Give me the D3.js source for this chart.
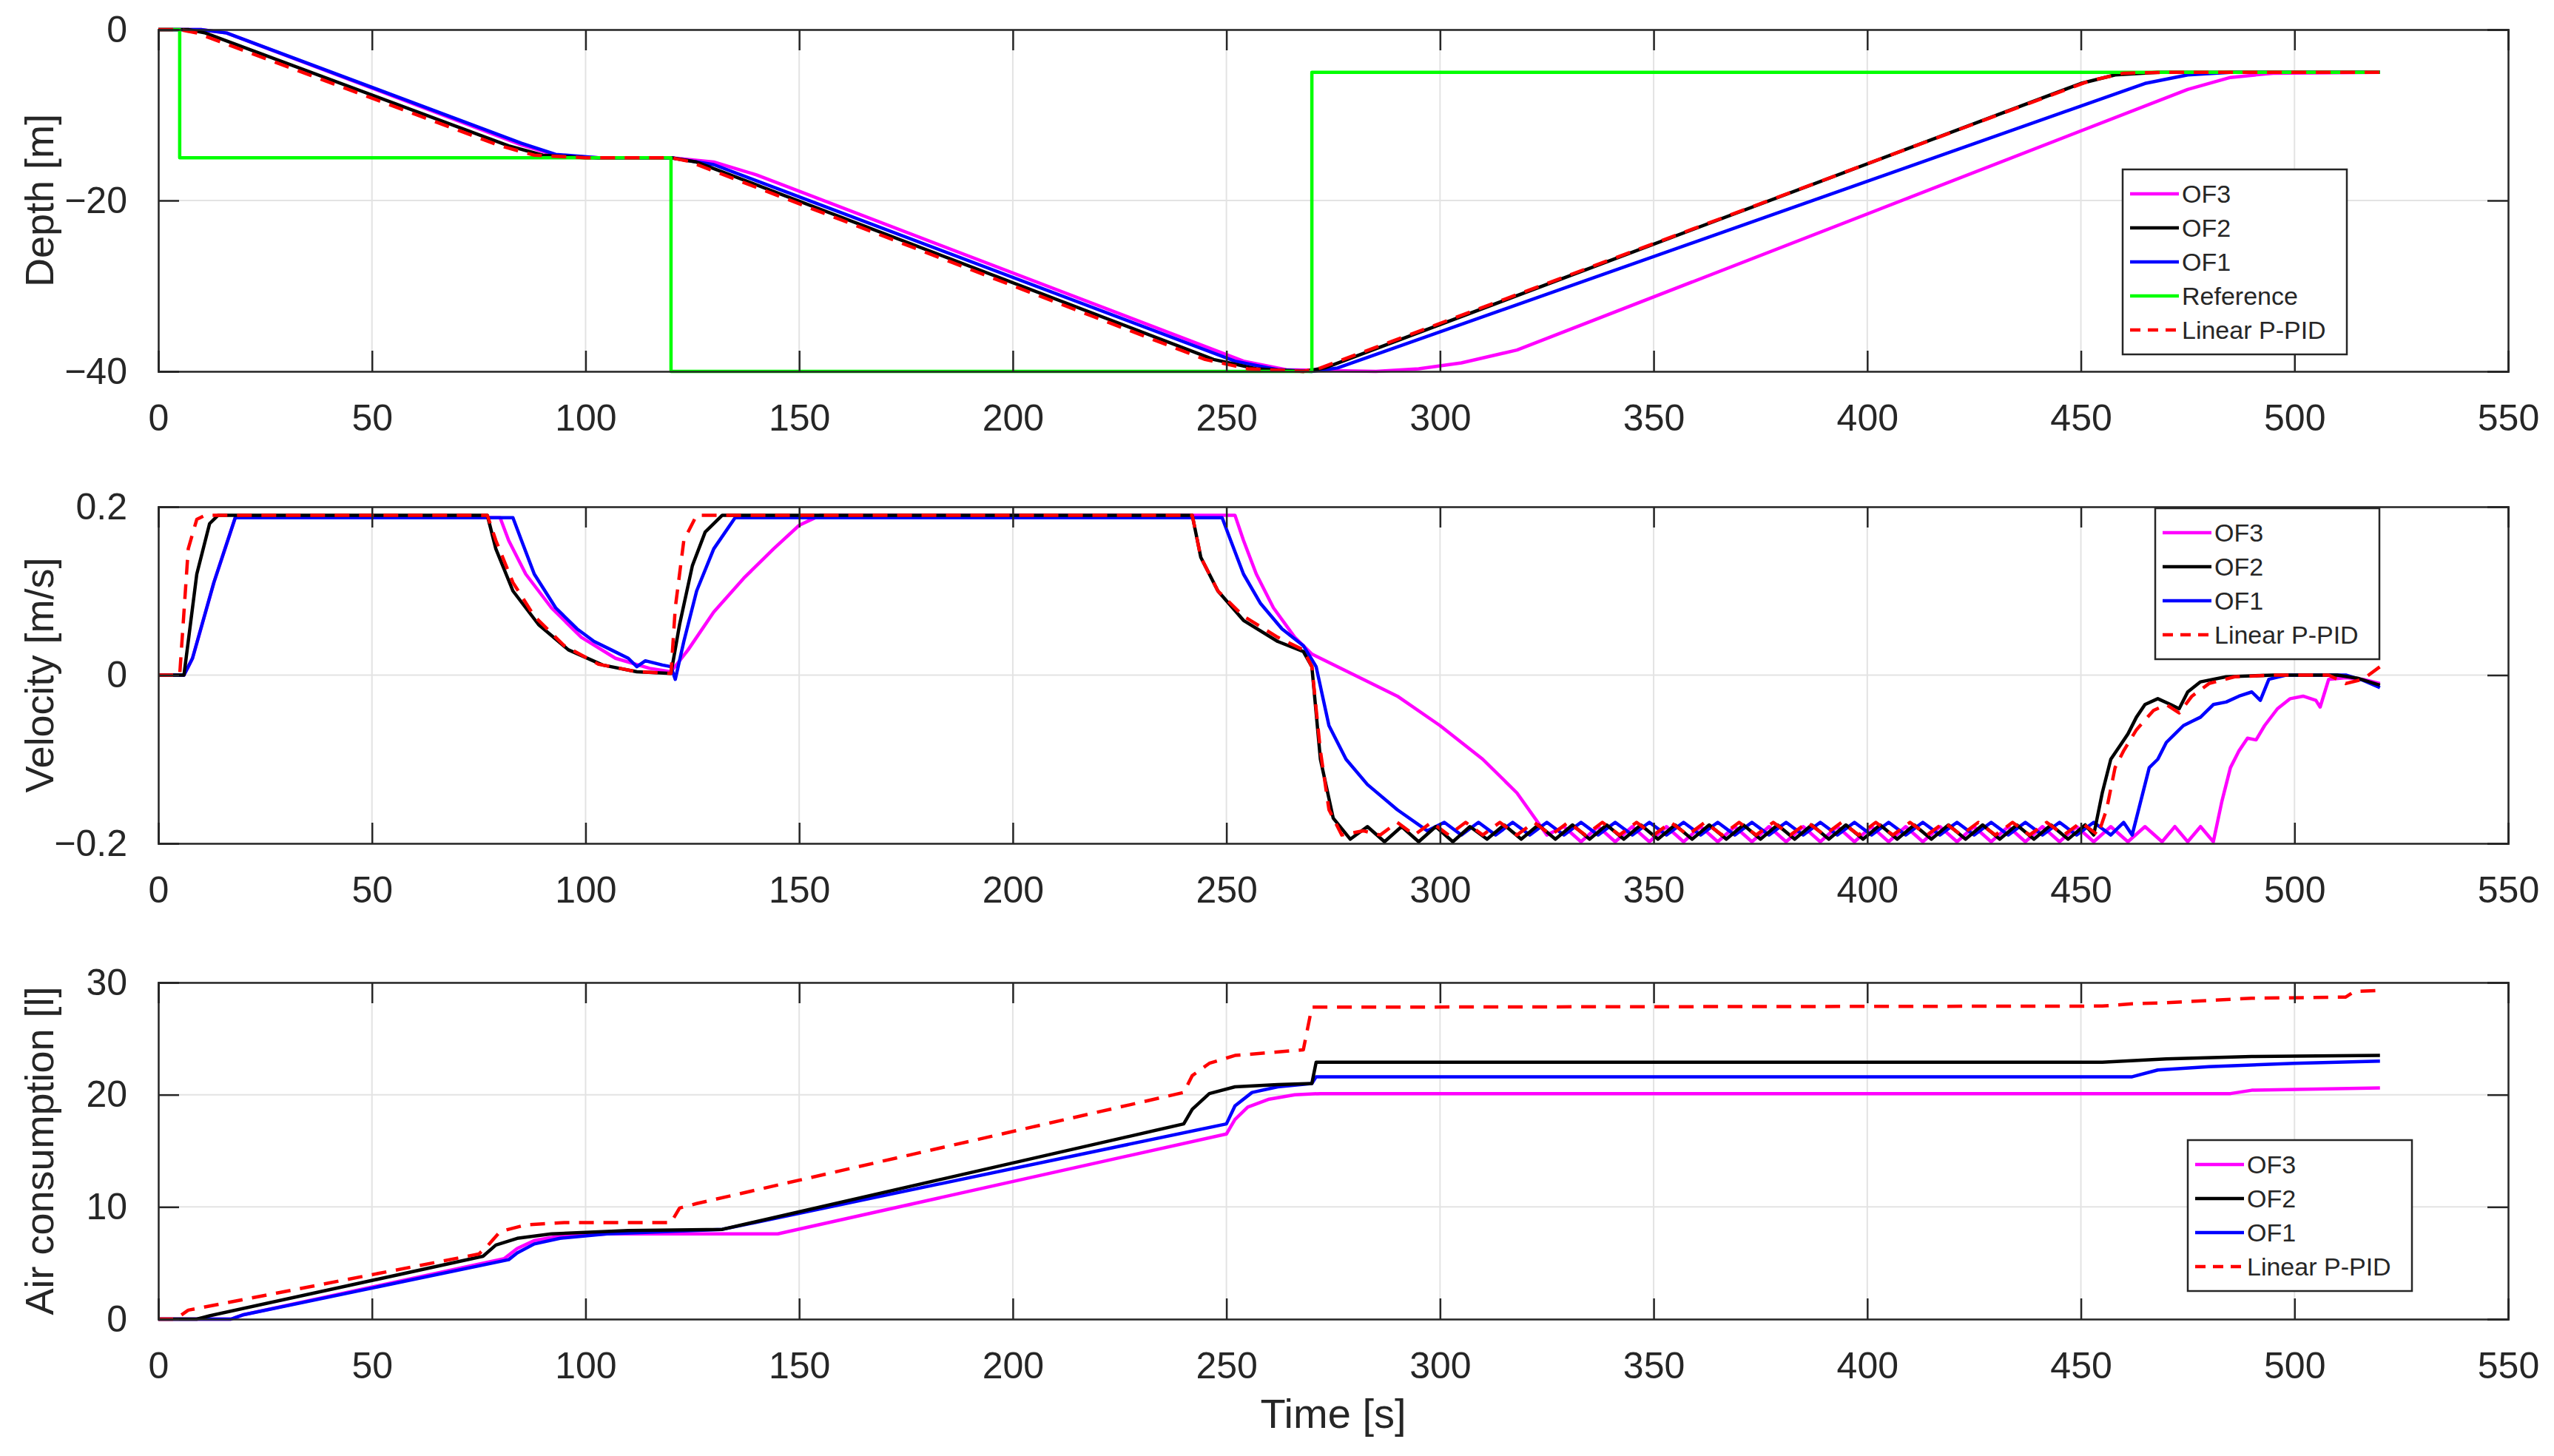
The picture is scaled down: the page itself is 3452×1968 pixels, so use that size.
<!DOCTYPE html>
<html><head><meta charset="utf-8">
<script src="https://cdn.jsdelivr.net/npm/d3@7"></script>
<style>body{margin:0;background:#fff}svg{display:block}text{font-family:"Liberation Sans",Arial,sans-serif;fill:#262626}</style>
</head><body><svg id="c" width="3452" height="1968"></svg>
<script>
// ---------- data ----------
const timeTicks = [0,50,100,150,200,250,300,350,400,450,500,550];
const depthTicks = [0,-20,-40];
const velTicks = [-0.2,0,0.2];
const airTicks = [0,10,20,30];

const depthRef = [[0,0],[5,0],[5,-15],[120,-15],[120,-40],[270,-40],[270,-5],[520,-5]];
const depthPID = [[0,0],[5,0],[9,-0.4],[80,-13.6],[88,-14.7],[100,-15],[120,-15],[124,-15.4],[245,-38.6],[255,-39.7],[268,-40],[272,-39.6],[452,-6],[460,-5.1],[470,-5],[520,-5]];
const depthOF2 = [[0,0],[7,0],[11,-0.4],[82,-13.6],[90,-14.7],[100,-15],[120,-15],[126,-15.5],[247,-38.6],[257,-39.7],[268,-40],[273,-39.6],[450,-6.3],[458,-5.3],[468,-5],[520,-5]];
const depthOF1 = [[0,0],[10,0],[16,-0.4],[85,-13.3],[93,-14.6],[103,-15],[120,-15],[130,-15.8],[252,-38.8],[262,-39.8],[270,-40],[276,-39.6],[465,-6.3],[475,-5.3],[485,-5],[520,-5]];
const depthOF3 = [[0,0],[10,0],[16,-0.4],[85,-13.5],[93,-14.7],[103,-15],[120,-15],[130,-15.5],[140,-17],[254,-38.8],[264,-39.8],[285,-40],[295,-39.7],[305,-39],[318,-37.5],[475,-7],[485,-5.6],[495,-5.1],[520,-5]];

const velPID = [[0,0],[5,0],[7,0.15],[9,0.185],[11,0.19],[77,0.19],[79,0.16],[83,0.11],[88,0.07],[95,0.035],[103,0.013],[112,0.004],[120,0.002],[121,0.08],[123,0.16],[126,0.19],[242,0.19],[244,0.14],[248,0.1],[254,0.07],[262,0.045],[268,0.03],[270,0.01],[272,-0.09],[274,-0.16],[277,-0.19],[282,-0.185],[286,-0.19],
 [290,-0.175],[294,-0.19],[298,-0.175],[302,-0.19],[306,-0.175],[310,-0.19],[314,-0.175],[318,-0.19],[322,-0.175],[326,-0.19],[330,-0.175],[334,-0.19],[338,-0.175],[342,-0.19],[346,-0.175],[350,-0.19],[354,-0.175],[358,-0.19],[362,-0.175],[366,-0.19],[370,-0.175],[374,-0.19],[378,-0.175],[382,-0.19],[386,-0.175],[390,-0.19],[394,-0.175],[398,-0.19],[402,-0.175],[406,-0.19],[410,-0.175],[414,-0.19],[418,-0.175],[422,-0.19],[426,-0.175],[430,-0.19],[434,-0.175],[438,-0.19],[442,-0.175],[446,-0.19],[450,-0.175],[454,-0.19],
 [456,-0.16],[458,-0.11],[460,-0.09],[463,-0.065],[467,-0.042],[470,-0.035],[473,-0.045],[476,-0.025],[480,-0.01],[486,-0.002],[495,0],[508,0],[512,-0.01],[516,-0.005],[520,0.01]];
const velOF2 = [[0,0],[6,0],[9,0.12],[12,0.18],[14,0.19],[77,0.19],[79,0.15],[83,0.1],[89,0.06],[96,0.03],[104,0.012],[112,0.004],[120,0.002],[122,0.06],[125,0.13],[128,0.17],[132,0.19],[242,0.19],[244,0.14],[248,0.1],[254,0.065],[262,0.04],[268,0.028],[270,0.01],[272,-0.1],[275,-0.17],[279,-0.195],[283,-0.18],[287,-0.198],
 [291,-0.18],[295,-0.198],[299,-0.18],[303,-0.198],[307,-0.18],[311,-0.195],[315,-0.178],[319,-0.195],[323,-0.178],[327,-0.195],[331,-0.178],[335,-0.195],[339,-0.178],[343,-0.195],[347,-0.178],[351,-0.195],[355,-0.178],[359,-0.195],[363,-0.178],[367,-0.195],[371,-0.178],[375,-0.195],[379,-0.178],[383,-0.195],[387,-0.178],[391,-0.195],[395,-0.178],[399,-0.195],[403,-0.178],[407,-0.195],[411,-0.178],[415,-0.195],[419,-0.178],[423,-0.195],[427,-0.178],[431,-0.195],[435,-0.178],[439,-0.195],[443,-0.178],[447,-0.195],[451,-0.178],[453,-0.19],
 [455,-0.14],[457,-0.1],[459,-0.085],[461,-0.07],[463,-0.05],[465,-0.035],[468,-0.028],[471,-0.035],[473,-0.04],[475,-0.02],[478,-0.008],[484,-0.002],[495,0],[510,0],[515,-0.004],[520,-0.012]];
const velOF1 = [[0,0],[6,0],[8,0.02],[13,0.11],[18,0.187],[83,0.187],[85,0.16],[88,0.12],[93,0.08],[98,0.055],[102,0.04],[106,0.03],[110,0.02],[112,0.01],[114,0.017],[118,0.012],[120,0.01],[121,-0.005],[123,0.04],[126,0.1],[130,0.15],[135,0.187],[249,0.187],[251,0.16],[254,0.12],[258,0.085],[263,0.055],[268,0.035],[271,0.01],[274,-0.06],[278,-0.1],[283,-0.13],[290,-0.16],[297,-0.185],
 [301,-0.175],[305,-0.19],[309,-0.175],[313,-0.19],[317,-0.175],[321,-0.19],[325,-0.175],[329,-0.19],[333,-0.175],[337,-0.19],[341,-0.175],[345,-0.19],[349,-0.175],[353,-0.19],[357,-0.175],[361,-0.19],[365,-0.175],[369,-0.19],[373,-0.175],[377,-0.19],[381,-0.175],[385,-0.19],[389,-0.175],[393,-0.19],[397,-0.175],[401,-0.19],[405,-0.175],[409,-0.19],[413,-0.175],[417,-0.19],[421,-0.175],[425,-0.19],[429,-0.175],[433,-0.19],[437,-0.175],[441,-0.19],[445,-0.175],[449,-0.19],[453,-0.175],[457,-0.19],[460,-0.175],[462,-0.19],
 [464,-0.15],[466,-0.11],[468,-0.1],[470,-0.08],[472,-0.07],[474,-0.06],[476,-0.055],[478,-0.05],[481,-0.035],[484,-0.032],[487,-0.025],[490,-0.02],[492,-0.03],[494,-0.005],[498,0],[512,0],[516,-0.006],[520,-0.015]];
const velOF3 = [[0,0],[6,0],[8,0.02],[13,0.11],[18,0.187],[80,0.187],[82,0.16],[86,0.12],[92,0.08],[99,0.045],[107,0.02],[115,0.008],[120,0.004],[124,0.03],[130,0.075],[137,0.115],[144,0.15],[150,0.178],[155,0.19],[252,0.19],[254,0.16],[257,0.12],[261,0.08],[266,0.045],[270,0.025],[280,0.0],[290,-0.025],[300,-0.06],[310,-0.1],[318,-0.14],[325,-0.19],
 [329,-0.18],[333,-0.198],[337,-0.18],[341,-0.198],[345,-0.18],[349,-0.198],[353,-0.18],[357,-0.198],[361,-0.18],[365,-0.198],[369,-0.18],[373,-0.198],[377,-0.18],[381,-0.198],[385,-0.18],[389,-0.198],[393,-0.18],[397,-0.198],[401,-0.18],[405,-0.198],[409,-0.18],[413,-0.198],[417,-0.18],[421,-0.198],[425,-0.18],[429,-0.198],[433,-0.18],[437,-0.198],[441,-0.18],[445,-0.198],[449,-0.18],[453,-0.198],[457,-0.18],[461,-0.198],[465,-0.18],[469,-0.198],[472,-0.18],[475,-0.198],[478,-0.18],[481,-0.198],
 [483,-0.15],[485,-0.11],[487,-0.09],[489,-0.075],[491,-0.077],[493,-0.06],[496,-0.04],[499,-0.028],[502,-0.025],[505,-0.03],[506,-0.038],[508,-0.005],[512,-0.003],[516,-0.005],[520,-0.01]];

const airPID = [[0,0],[4,0],[7,0.8],[75,5.8],[77,6.5],[80,7.8],[86,8.4],[95,8.6],[120,8.6],[122,9.9],[126,10.3],[240,20.2],[242,21.7],[246,22.8],[252,23.5],[268,24],[270,27.8],[455,27.9],[462,28.1],[470,28.2],[490,28.6],[512,28.7],[514,29.2],[520,29.3]];
const airOF2 = [[0,0],[9,0],[12,0.3],[76,5.6],[79,6.6],[84,7.2],[92,7.6],[110,7.9],[132,8.0],[240,17.4],[242,18.7],[246,20.1],[252,20.7],[262,20.9],[270,21],[271,22.9],[455,22.9],[470,23.2],[490,23.4],[520,23.5]];
const airOF1 = [[0,0],[17,0],[20,0.4],[82,5.3],[84,5.9],[88,6.7],[94,7.2],[105,7.6],[132,8.0],[250,17.4],[252,19],[256,20.2],[262,20.7],[270,21],[271,21.6],[462,21.6],[468,22.2],[480,22.5],[500,22.8],[520,23]];
const airOF3 = [[0,0],[17,0],[20,0.4],[81,5.4],[84,6.3],[88,7],[94,7.4],[105,7.6],[145,7.6],[250,16.5],[252,17.8],[255,18.9],[260,19.6],[266,20],[272,20.1],[485,20.1],[490,20.4],[520,20.6]];

const cMag="#ff00ff", cBlk="#000000", cBlu="#0000ff", cGrn="#00ff00", cRed="#ff0000";
// ---------- drawing ----------
const svg = d3.select("#c");
const L=214, R=3390;
const x = d3.scaleLinear().domain([0,550]).range([L,R]);

function panel(top,bot,ydom,yticks,fmt,label,series,legend){
  const y = d3.scaleLinear().domain(ydom).range([bot,top]);
  const g = svg.append("g");
  // grid
  g.selectAll(".gx").data(timeTicks).enter().append("line")
    .attr("x1",d=>x(d)).attr("x2",d=>x(d)).attr("y1",top).attr("y2",bot)
    .attr("stroke","#e3e3e3").attr("stroke-width",2);
  g.selectAll(".gy").data(yticks).enter().append("line")
    .attr("x1",L).attr("x2",R).attr("y1",d=>y(d)).attr("y2",d=>y(d))
    .attr("stroke","#e3e3e3").attr("stroke-width",2);
  // series
  const line = d3.line().x(d=>x(d[0])).y(d=>y(d[1]));
  series.forEach(s=>{
    g.append("path").datum(s.d).attr("d",line).attr("fill","none")
      .attr("stroke",s.c).attr("stroke-width",4.5).attr("stroke-linejoin","round")
      .attr("stroke-dasharray",s.dash?"20,13":null);
  });
  // axes (MATLAB style, ticks inside)
  const tl = 28;
  const ax = d3.axisBottom(x).tickValues(timeTicks).tickSize(-tl).tickPadding(tl+14);
  const ay = d3.axisLeft(y).tickValues(yticks).tickFormat(fmt).tickSize(-tl).tickPadding(tl+14);
  const gx = g.append("g").attr("transform",`translate(0,${bot})`).call(ax);
  const gy = g.append("g").attr("transform",`translate(${L},0)`).call(ay);
  const gx2 = g.append("g").attr("transform",`translate(0,${top})`).call(d3.axisTop(x).tickValues(timeTicks).tickSize(-tl).tickFormat(""));
  const gy2 = g.append("g").attr("transform",`translate(${R},0)`).call(d3.axisRight(y).tickValues(yticks).tickSize(-tl).tickFormat(""));
  [gx,gy,gx2,gy2].forEach(a=>{
    a.select(".domain").attr("stroke","#262626").attr("stroke-width",2.5);
    a.selectAll(".tick line").attr("stroke","#262626").attr("stroke-width",2.5);
    a.selectAll("text").attr("font-size",50).attr("fill","#262626").attr("font-family","Liberation Sans, Arial");
  });
  gx.selectAll("text").attr("dy","0.75em");
  g.append("text").attr("transform",`translate(72,${(top+bot)/2}) rotate(-90)`)
    .attr("text-anchor","middle").attr("font-size",54).text(label);
  // legend
  const lg = g.append("g").attr("transform",`translate(${legend.x},${legend.y})`);
  const rowH=46;
  lg.append("rect").attr("width",legend.w).attr("height",rowH*legend.items.length+20)
    .attr("fill","#fff").attr("stroke","#262626").attr("stroke-width",2.5);
  legend.items.forEach((it,i)=>{
    const yy = 10+rowH*i+rowH/2;
    lg.append("line").attr("x1",10).attr("x2",76).attr("y1",yy).attr("y2",yy)
      .attr("stroke",it.c).attr("stroke-width",4.5).attr("stroke-dasharray",it.dash?"14,10":null);
    lg.append("text").attr("x",80).attr("y",yy).attr("dy","0.35em").attr("font-size",34)
      .attr("fill","#000").text(it.n);
  });
  return y;
}

const S = {
  of3:{n:"OF3",c:cMag}, of2:{n:"OF2",c:cBlk}, of1:{n:"OF1",c:cBlu},
  ref:{n:"Reference",c:cGrn}, pid:{n:"Linear P-PID",c:cRed,dash:true}
};

panel(40,502,[-40,0],depthTicks,d3.format("d"),"Depth [m]",
  [{d:depthOF3,c:cMag},{d:depthOF1,c:cBlu},{d:depthOF2,c:cBlk},{d:depthRef,c:cGrn},{d:depthPID,c:cRed,dash:true}],
  {x:2869,y:229,w:303,items:[S.of3,S.of2,S.of1,S.ref,S.pid]});

panel(685,1140,[-0.2,0.2],velTicks,d=>d===0?"0":d3.format(".1f")(d).replace("-","-"),"Velocity [m/s]",
  [{d:velOF3,c:cMag},{d:velOF1,c:cBlu},{d:velOF2,c:cBlk},{d:velPID,c:cRed,dash:true}],
  {x:2913,y:687,w:303,items:[S.of3,S.of2,S.of1,S.pid]});

panel(1328,1783,[0,30],airTicks,d3.format("d"),"Air consumption [l]",
  [{d:airOF3,c:cMag},{d:airOF1,c:cBlu},{d:airOF2,c:cBlk},{d:airPID,c:cRed,dash:true}],
  {x:2957,y:1541,w:303,items:[S.of3,S.of2,S.of1,S.pid]});

svg.append("text").attr("x",(L+R)/2).attr("y",1930).attr("text-anchor","middle")
  .attr("font-size",56).text("Time [s]");
</script></body></html>
